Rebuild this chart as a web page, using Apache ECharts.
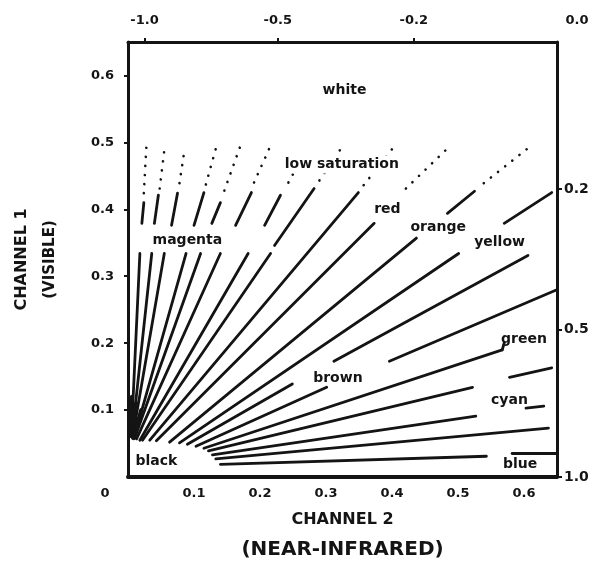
<!DOCTYPE html>
<html>
<head>
<meta charset="utf-8">
<script src="https://cdn.jsdelivr.net/npm/echarts@6/dist/echarts.min.js"></script>
<style>
  html, body { margin: 0; padding: 0; background: #fff; }
  #chart { width: 600px; height: 571px; }
</style>
</head>
<body>
<div id="chart"></div>
<script>
// segments are [x1, y1, x2, y2] in channel 2 / channel 1 units
const fanLines = [
  [0.005, 0.060, 0.018, 0.334],
  [0.006, 0.060, 0.036, 0.334],
  [0.007, 0.060, 0.055, 0.334],
  [0.009, 0.058, 0.088, 0.334],
  [0.010, 0.058, 0.110, 0.334],
  [0.013, 0.057, 0.140, 0.334],
  [0.018, 0.055, 0.182, 0.334],
  [0.022, 0.055, 0.216, 0.334],
  [0.033, 0.055, 0.349, 0.425],
  [0.043, 0.054, 0.373, 0.379],
  [0.063, 0.052, 0.437, 0.357],
  [0.078, 0.051, 0.501, 0.334],
  [0.090, 0.049, 0.249, 0.139],
  [0.103, 0.046, 0.301, 0.134],
  [0.115, 0.043, 0.567, 0.190],
  [0.122, 0.039, 0.522, 0.134],
  [0.128, 0.033, 0.527, 0.091],
  [0.133, 0.027, 0.637, 0.073],
  [0.140, 0.019, 0.543, 0.031]
]
// dark blob where the fan meets "black"
const blackWedge = [
  [0.004, 0.062, 0.006, 0.120],
  [0.007, 0.060, 0.012, 0.110],
  [0.008, 0.058, 0.020, 0.100]
]
const outerLines = [
  [0.312, 0.173, 0.606, 0.331],
  [0.396, 0.173, 0.648, 0.279],
  [0.021, 0.379, 0.024, 0.410],
  [0.040, 0.379, 0.046, 0.421],
  [0.066, 0.376, 0.075, 0.424],
  [0.100, 0.376, 0.115, 0.425],
  [0.127, 0.379, 0.140, 0.410],
  [0.163, 0.376, 0.187, 0.425],
  [0.207, 0.376, 0.231, 0.421],
  [0.222, 0.346, 0.282, 0.431],
  [0.484, 0.394, 0.525, 0.427],
  [0.570, 0.379, 0.642, 0.425],
  [0.578, 0.149, 0.642, 0.163],
  [0.603, 0.103, 0.630, 0.106],
  [0.582, 0.036, 0.648, 0.036],
  [0.567, 0.190, 0.570, 0.200]
]
const dottedLines = [
  [0.024, 0.424, 0.028, 0.497],
  [0.048, 0.431, 0.055, 0.488],
  [0.078, 0.439, 0.085, 0.485],
  [0.118, 0.437, 0.134, 0.494],
  [0.146, 0.428, 0.170, 0.494],
  [0.191, 0.440, 0.215, 0.493],
  [0.243, 0.440, 0.269, 0.487],
  [0.290, 0.443, 0.327, 0.497],
  [0.357, 0.436, 0.401, 0.491],
  [0.421, 0.431, 0.481, 0.488],
  [0.539, 0.439, 0.612, 0.496]
]

const colorNames = ['white', 'low saturation', 'red', 'orange', 'yellow', 'magenta', 'green', 'brown', 'cyan', 'black', 'blue']
const colorNameX = [0.328, 0.324, 0.393, 0.470, 0.563, 0.090, 0.600, 0.318, 0.578, 0.043, 0.594]
const colorNameY = [0.578, 0.467, 0.400, 0.373, 0.351, 0.354, 0.206, 0.148, 0.115, 0.024, 0.019]

// top and right scales: (ch2 - ch1) / (ch2 + ch1)
const topTickPos = [0.025, 0.227, 0.433, 0.65]
const topTickLabels = ['-1.0', '-0.5', '-0.2', '0.0']
const rightTickPos = [0.43, 0.22, 0.0]
const rightTickLabels = ['0.2', '0.5', '1.0']

const ink = '#141414'
const font = 'DejaVu Sans'

function toLines(segs) {
  return segs.map(s => ({ coords: [[s[0], s[1]], [s[2], s[3]]] }))
}
function nearest(list, v) {
  let best = 0
  list.forEach((p, i) => { if (Math.abs(p - v) < Math.abs(list[best] - v)) best = i })
  return best
}

const chart = echarts.init(document.getElementById('chart'))
chart.setOption({
  animation: false,
  backgroundColor: '#fff',
  grid: { left: 123, right: 43, top: 42, bottom: 94 },
  xAxis: [{
    type: 'value',
    position: 'bottom',
    min: 0,
    max: 0.65,
    interval: 0.1,
    splitLine: { show: false },
    axisLine: { onZero: false, lineStyle: { color: ink, width: 4 } },
    axisTick: { show: false },
    axisLabel: {
      showMaxLabel: false,
      margin: 10,
      color: ink,
      fontFamily: font,
      fontWeight: 'bold',
      fontSize: 13,
      formatter: v => v === 0 ? '{z|0}' : v.toFixed(1),
      rich: { z: { padding: [0, 46, 0, 0], fontFamily: font, fontWeight: 'bold', fontSize: 13, color: ink } }
    },
    name: '{a|CHANNEL 2}\n{b|(NEAR-INFRARED)}',
    nameLocation: 'middle',
    nameGap: 28,
    nameMoveOverlap: false,
    nameTextStyle: {
      lineHeight: 30,
      rich: {
        a: { fontFamily: font, fontWeight: 'bold', fontSize: 16, color: ink, lineHeight: 30 },
        b: { fontFamily: font, fontWeight: 'bold', fontSize: 20, color: ink, lineHeight: 30 }
      }
    }
  }, {
    type: 'value',
    position: 'top',
    min: 0,
    max: 0.65,
    splitLine: { show: false },
    axisLine: { onZero: false, lineStyle: { color: ink, width: 3 } },
    axisTick: { customValues: topTickPos.slice(0, 3), length: 4, lineStyle: { color: ink, width: 2 } },
    axisLabel: {
      customValues: topTickPos,
      margin: 15,
      color: ink,
      fontFamily: font,
      fontWeight: 'bold',
      fontSize: 13,
      formatter: v => {
        const i = nearest(topTickPos, v)
        return i === topTickPos.length - 1 ? '{e|' + topTickLabels[i] + '}' : topTickLabels[i]
      },
      rich: { e: { padding: [0, 0, 0, 40], fontFamily: font, fontWeight: 'bold', fontSize: 13, color: ink } }
    }
  }],
  yAxis: [{
    type: 'value',
    position: 'left',
    min: 0,
    max: 0.65,
    interval: 0.1,
    splitLine: { show: false },
    axisLine: { onZero: false, lineStyle: { color: ink, width: 3 } },
    axisTick: { length: 4, lineStyle: { color: ink, width: 2 } },
    axisLabel: {
      showMinLabel: false,
      showMaxLabel: false,
      margin: 14,
      color: ink,
      fontFamily: font,
      fontWeight: 'bold',
      fontSize: 13,
      formatter: v => v.toFixed(1)
    },
    name: '{a|CHANNEL 1}\n{b|(VISIBLE)}',
    nameLocation: 'middle',
    nameGap: 64,
    nameMoveOverlap: false,
    nameTextStyle: {
      lineHeight: 28,
      rich: {
        a: { fontFamily: font, fontWeight: 'bold', fontSize: 16, color: ink, lineHeight: 28 },
        b: { fontFamily: font, fontWeight: 'bold', fontSize: 15, color: ink, lineHeight: 28 }
      }
    }
  }, {
    type: 'value',
    position: 'right',
    min: 0,
    max: 0.65,
    splitLine: { show: false },
    axisLine: { onZero: false, lineStyle: { color: ink, width: 3 } },
    axisTick: { customValues: rightTickPos, length: 5, lineStyle: { color: ink, width: 2 } },
    axisLabel: {
      customValues: rightTickPos,
      margin: 7,
      color: ink,
      fontFamily: font,
      fontWeight: 'bold',
      fontSize: 14,
      formatter: v => rightTickLabels[nearest(rightTickPos, v)]
    }
  }],
  series: [{
    type: 'lines',
    coordinateSystem: 'cartesian2d',
    silent: true,
    lineStyle: { color: ink, width: 2.8, opacity: 1, cap: 'round' },
    data: toLines(fanLines)
  }, {
    type: 'lines',
    coordinateSystem: 'cartesian2d',
    silent: true,
    lineStyle: { color: ink, width: 4, opacity: 1, cap: 'round' },
    data: toLines(blackWedge)
  }, {
    type: 'lines',
    coordinateSystem: 'cartesian2d',
    silent: true,
    lineStyle: { color: ink, width: 2.8, opacity: 1, cap: 'round' },
    data: toLines(outerLines)
  }, {
    type: 'lines',
    coordinateSystem: 'cartesian2d',
    silent: true,
    lineStyle: { color: ink, width: 2.6, opacity: 1, cap: 'round', type: [0.1, 9] },
    data: toLines(dottedLines)
  }, {
    type: 'scatter',
    silent: true,
    symbolSize: 0,
    itemStyle: { color: 'rgba(0,0,0,0)' },
    z: 5,
    label: {
      show: true,
      position: 'inside',
      formatter: '{b}',
      color: ink,
      opacity: 1,
      fontFamily: font,
      fontWeight: 'bold',
      fontSize: 14
    },
    data: colorNames.map((n, i) => {
      const d = { name: n, value: [colorNameX[i], colorNameY[i]] }
      if (n === 'low saturation') d.label = { backgroundColor: '#fff', padding: [2, 4] }
      return d
    })
  }]
})
</script>
</body>
</html>
